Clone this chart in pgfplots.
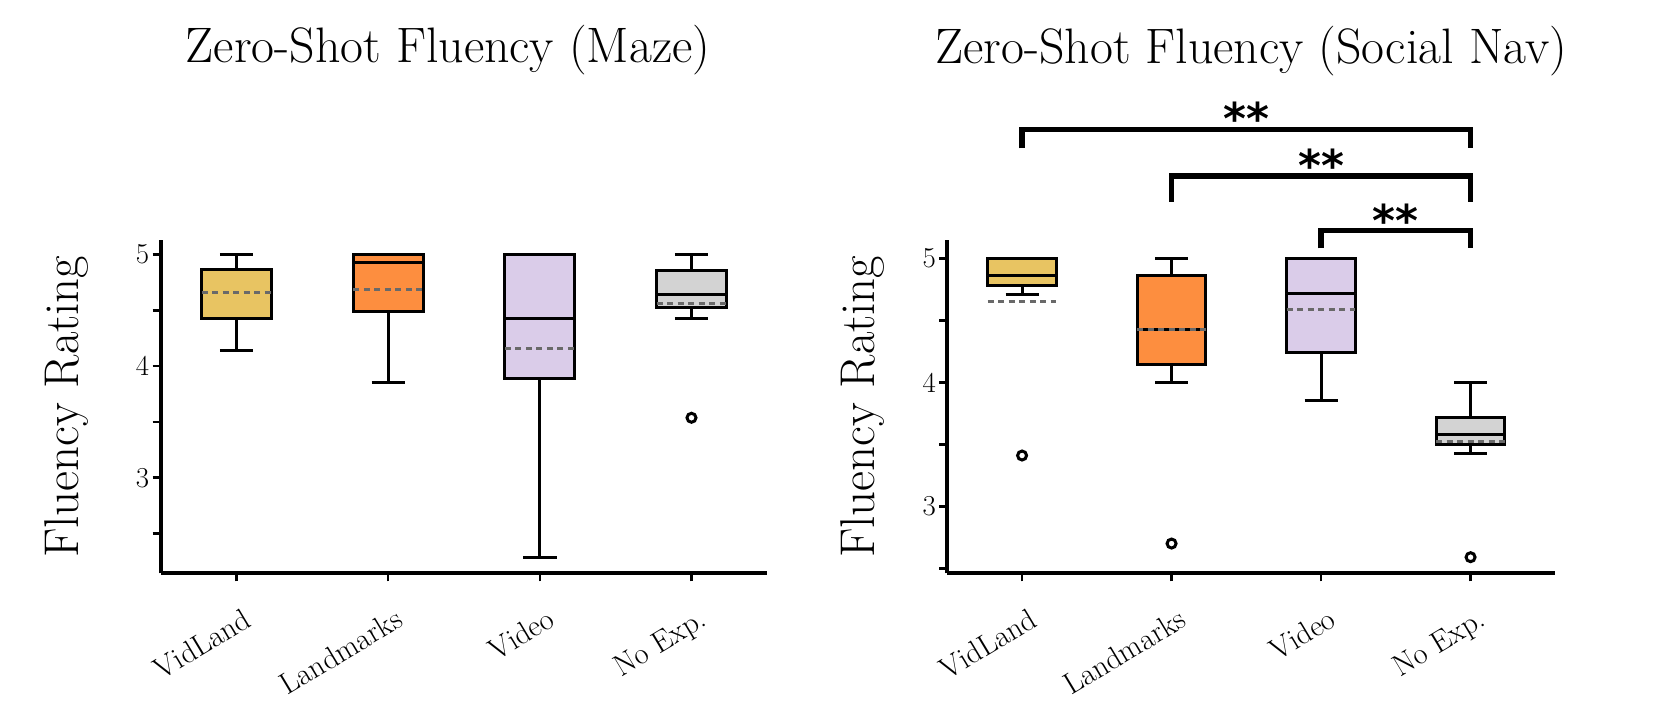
\documentclass[border=0pt]{standalone}
\usepackage{fontspec}
\usepackage{pgfplots}
\pgfplotsset{compat=1.18}
\usepgfplotslibrary{statistics}
\newfontfamily\djv{DejaVu Sans}

\definecolor{cVid}{RGB}{232,196,98}
\definecolor{cLand}{RGB}{253,142,63}
\definecolor{cVideo}{RGB}{218,204,233}
\definecolor{cNo}{RGB}{211,211,211}
\definecolor{meangray}{RGB}{105,105,105}

\tikzset{stars/.style={font=\djv\bfseries\fontsize{44}{44}\selectfont, yshift=-8bp}}

\pgfplotsset{
  flu/.style={
    scale only axis, height=333.3bp,
    axis x line*=bottom, axis y line*=left,
    axis line style={line width=4bp, black},
    xtick={0,1,2,3}, xticklabels={VidLand,Landmarks,Video,No Exp.},
    ytick={3,4,5}, minor ytick={2.5,3.5,4.5},
    tick align=outside, major tick length=8bp, minor tick length=8bp,
    every tick/.style={black, line width=2.5bp},
    /pgf/number format/assume math mode=true,
    tick label style={font=\fontsize{29}{29}\selectfont},
    xticklabel style={font=\fontsize{30.5}{30.5}\selectfont,
      xshift=7bp, yshift=-21bp, rotate=31, anchor=north east},
    every axis title/.style={at={(0.5,1)}, anchor=base, yshift=177bp,
      font=\fontsize{50}{50}\selectfont},
    ylabel={Fluency Rating},
    every axis y label/.style={rotate=90, anchor=base, at={(axis description cs:-0.1347,0.5)},
      font=\fontsize{49}{49}\selectfont},
    clip=false,
    boxplot/draw direction=y,
  },
  bx/.style={draw=black, line width=3bp, solid, mark=o, mark size=4.5bp,
    mark options={draw=black, line width=3bp, fill=none}},
  mn/.style={draw=meangray, line width=3bp, dash pattern=on 6bp off 4.5bp, forget plot},
  br/.style={draw=black, line width=5.5bp, line join=miter, forget plot},
}

\begin{document}
\begin{tikzpicture}[x=1bp,y=1bp]
\path[use as bounding box] (0,0) rectangle (1660,-719);

% Maze
\begin{axis}[flu, at={(160.7bp,-573.3bp)}, anchor=south west, width=606.6bp,
  xmin=-0.5, xmax=3.5, ymin=2.143, ymax=5.13,
  title={Zero-Shot Fluency (Maze)}, title style={xshift=-16bp}]
\addplot[bx, fill=cVid, boxplot prepared={lower whisker=4.137, lower quartile=4.424,
  median=4.866, upper quartile=4.866, upper whisker=5.0, draw position=0,
  box extend=0.46, whisker extend=0.22}] coordinates {};
\addplot[bx, fill=cLand, boxplot prepared={lower whisker=3.854, lower quartile=4.49,
  median=4.925, upper quartile=5.0, upper whisker=5.0, draw position=1,
  box extend=0.46, whisker extend=0.22}] coordinates {};
\addplot[bx, fill=cVideo, boxplot prepared={lower whisker=2.287, lower quartile=3.886,
  median=4.43, upper quartile=5.0, upper whisker=5.0, draw position=2,
  box extend=0.46, whisker extend=0.22}] coordinates {};
\addplot[bx, fill=cNo, boxplot prepared={lower whisker=4.424, lower quartile=4.528,
  median=4.645, upper quartile=4.857, upper whisker=5.0, draw position=3,
  box extend=0.46, whisker extend=0.22}] coordinates {(3,3.537)};
% means
\addplot[mn] coordinates {(-0.23,4.66) (0.23,4.66)};
\addplot[mn] coordinates {(0.77,4.687) (1.23,4.687)};
\addplot[mn] coordinates {(1.77,4.158) (2.23,4.158)};
\addplot[mn] coordinates {(2.77,4.564) (3.23,4.564)};
\end{axis}

% Social Nav
\begin{axis}[flu, at={(947.3bp,-573.3bp)}, anchor=south west, width=607.7bp,
  xmin=-0.5, xmax=3.565, ymin=2.46, ymax=5.148,
  every axis y label/.append style={at={(axis description cs:-0.1206,0.5)}},
  title={Zero-Shot Fluency (Social Nav)}]
\addplot[bx, fill=cVid, boxplot prepared={lower whisker=4.71, lower quartile=4.78,
  median=4.86, upper quartile=5.0, upper whisker=5.0, draw position=0,
  box extend=0.46, whisker extend=0.22}] coordinates {(0,3.41)};
\addplot[bx, fill=cLand, boxplot prepared={lower whisker=4.0, lower quartile=4.14,
  median=4.43, upper quartile=4.858, upper whisker=5.0, draw position=1,
  box extend=0.46, whisker extend=0.22}] coordinates {(1,2.70)};
\addplot[bx, fill=cVideo, boxplot prepared={lower whisker=3.854, lower quartile=4.243,
  median=4.72, upper quartile=5.0, upper whisker=5.0, draw position=2,
  box extend=0.46, whisker extend=0.22}] coordinates {};
\addplot[bx, fill=cNo, boxplot prepared={lower whisker=3.43, lower quartile=3.497,
  median=3.583, upper quartile=3.72, upper whisker=4.0, draw position=3,
  box extend=0.46, whisker extend=0.22}] coordinates {(3,2.59)};
% means
\addplot[mn] coordinates {(-0.23,4.65) (0.23,4.65)};
\addplot[mn] coordinates {(0.77,4.43) (1.23,4.43)};
\addplot[mn] coordinates {(1.77,4.584) (2.23,4.584)};
\addplot[mn] coordinates {(2.77,3.523) (3.23,3.523)};
% significance brackets
\addplot[br] coordinates {(0,5.887) (0,6.040) (3,6.040) (3,5.887)};
\addplot[br] coordinates {(1,5.456) (1,5.666) (3,5.666) (3,5.456)};
\addplot[br] coordinates {(2,5.081) (2,5.223) (3,5.223) (3,5.081)};
\node[stars] at (axis cs:1.5,6.196) {**};
\node[stars] at (axis cs:2,5.819) {**};
\node[stars] at (axis cs:2.5,5.376) {**};
\end{axis}
\end{tikzpicture}
\end{document}
